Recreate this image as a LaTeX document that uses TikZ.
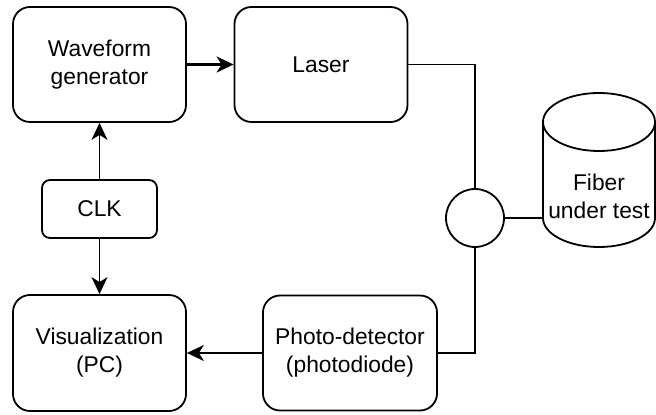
\documentclass[tikz,border=0pt]{standalone}
\usepackage{fontspec}
\setmainfont{Liberation Sans}
\usetikzlibrary{arrows.meta}
\begin{document}
\begin{tikzpicture}[x=1pt,y=1pt,
  line width=1.8pt,
  every node/.style={font=\fontsize{22.8}{28}\selectfont, align=center},
  block/.style={draw, rounded corners=17pt, minimum width=173pt, minimum height=115pt, inner sep=0pt},
  small/.style={draw, rounded corners=8pt, minimum width=115pt, minimum height=58pt, inner sep=0pt},
  coupler/.style={draw, circle, minimum size=58pt, inner sep=0pt},
  link/.style={line width=1.8pt},
  arr/.style={link, -{Stealth[length=17pt,width=16pt,inset=5pt]}}]
\useasboundingbox (0,0) rectangle (656,415);

% blocks
\node[block] (wave) at (99.5,350.5) {Waveform\\generator};
\node[block] (laser) at (321,350.5) {Laser};
\node[small] (clk) at (99.5,206) {CLK};
\node[block, minimum height=116pt] (viz) at (99.5,62) {Visualization\\(PC)};
\node[block, minimum width=174pt] (pd) at (350,62) {Photo-detector\\(photodiode)};
\node[coupler] (circ) at (475,197) {};

% fiber spool drawn as a cylinder
\draw (543,293) -- (543,197)
  arc[start angle=180, end angle=360, x radius=56pt, y radius=29pt]
  -- (655,293);
\draw (599,293) ellipse[x radius=56pt, y radius=29pt];
\node (fiber) at (599,219) {Fiber\\under test};
\coordinate (fiberin) at (543,197);

% connections
\draw[arr, line width=2.4pt] (wave.east) -- (laser.west);
\draw[link] (laser.east) -| (circ.north);
\draw[link] (circ.east) -- (fiberin);
\draw[link] (circ.south) |- (pd.east);
\draw[arr] (pd.west) -- (viz.east);
\draw[arr] (clk.north) -- (wave.south);
\draw[arr] (clk.south) -- (viz.north);
\end{tikzpicture}
\end{document}
